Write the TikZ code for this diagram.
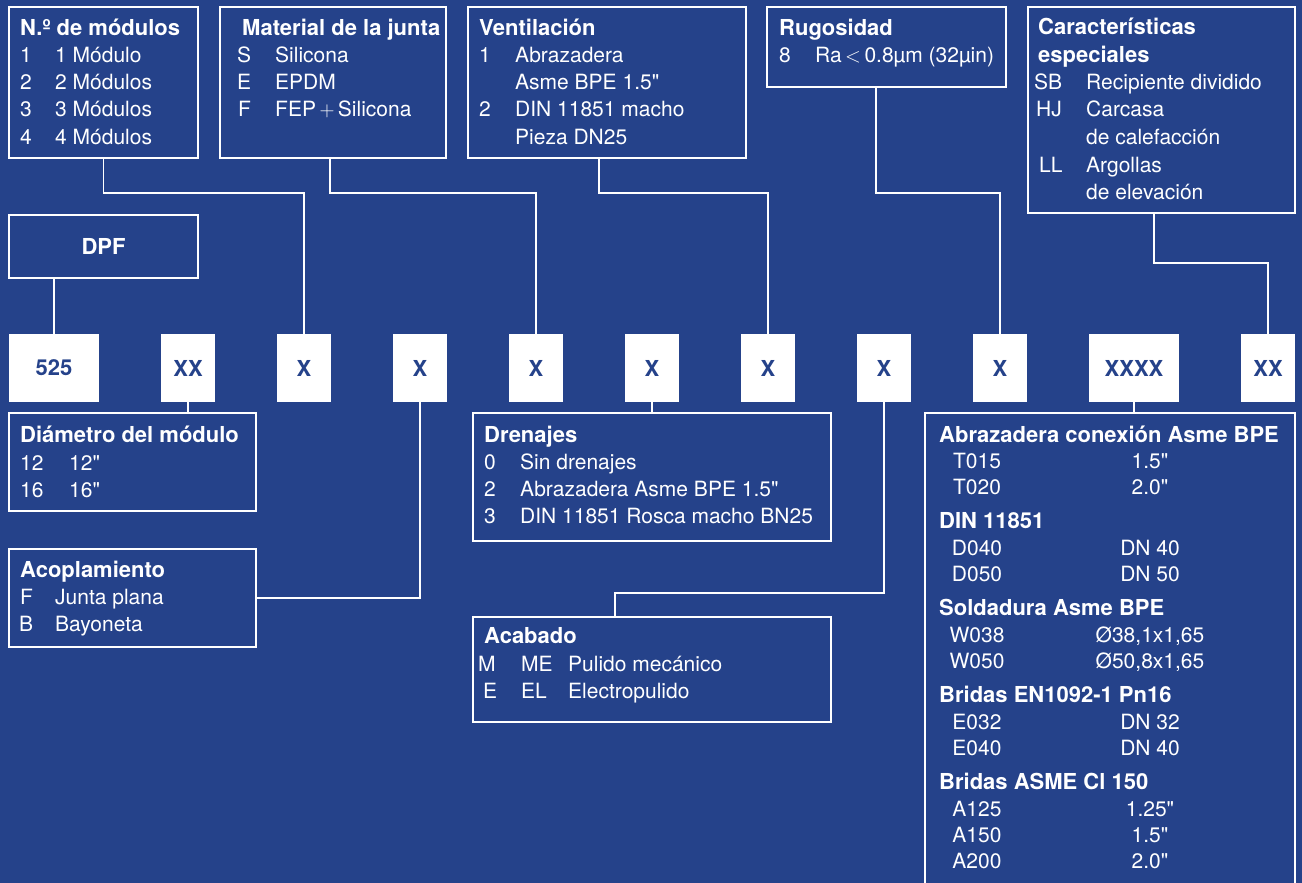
\documentclass[tikz,border=0pt]{standalone}
\usepackage{fontspec}
\setmainfont{TeX Gyre Heros}
\definecolor{bgc}{HTML}{25428A}
\newcommand{\inch}{\textquotedbl}
\begin{document}
\begin{tikzpicture}[x=1pt,y=-1pt,
  conn/.style={draw=white, line width=1.8pt},
  box/.style={draw=white, line width=1.8pt, anchor=north west, inner sep=0pt, outer sep=0pt},
  key/.style={fill=white, anchor=north west, inner sep=0pt, outer sep=0pt, minimum height=68pt, text=bgc, font=\fontsize{22}{24}\selectfont\bfseries},
  tt/.style={anchor=base west, inner sep=0pt, text=white, font=\fontsize{22}{24}\selectfont\bfseries},
  tx/.style={anchor=base west, inner sep=0pt, text=white, font=\fontsize{21}{24}\selectfont},
  tc/.style={anchor=base, inner sep=0pt, text=white, font=\fontsize{21}{24}\selectfont}]
\useasboundingbox (0,0) rectangle (1302,883);
\fill[bgc] (0,0) rectangle (1302,883);
\clip (0,0) rectangle (1302,883);

% top boxes
\node[box, minimum width=189pt, minimum height=151pt] (b1) at (9,7) {};
\node[box, minimum width=226pt, minimum height=151pt] (b2) at (220,7) {};
\node[box, minimum width=278pt, minimum height=151pt] (b3) at (468,7) {};
\node[box, minimum width=239pt, minimum height=80pt] (b4) at (767,7) {};
\node[box, minimum width=267pt, minimum height=206pt] (b5) at (1028,7) {};
\node[box, minimum width=189pt, minimum height=63pt] (d) at (9,215) {};
\node[tt, anchor=center] (dt) at (d.center) {DPF};

% box 1
\node[tt] (b1t) at (20,36) {N.º de módulos};
\node[tx] (b1a) at (20,63) {1}; \node[tx] (b1b) at (55,63) {1 Módulo};
\node[tx] (b1c) at (20,90) {2}; \node[tx] (b1d) at (55,90) {2 Módulos};
\node[tx] (b1e) at (20,117) {3}; \node[tx] (b1f) at (55,117) {3 Módulos};
\node[tx] (b1g) at (20,144) {4}; \node[tx] (b1h) at (55,144) {4 Módulos};
% box 2
\node[tt] (b2t) at (242,36) {Material de la junta};
\node[tx] (b2a) at (237,63) {S}; \node[tx] (b2b) at (275,63) {Silicona};
\node[tx] (b2c) at (237,90) {E}; \node[tx] (b2d) at (275,90) {EPDM};
\node[tx] (b2e) at (238,117) {F}; \node[tx] (b2f) at (275,117) {FEP\,$+$\,Silicona};
% box 3
\node[tt] (b3t) at (479,36) {Ventilación};
\node[tx] (b3a) at (479,63) {1}; \node[tx] (b3b) at (515,63) {Abrazadera};
\node[tx] (b3c) at (515,90) {Asme BPE 1.5\inch};
\node[tx] (b3d) at (479,117) {2}; \node[tx] (b3e) at (515,117) {DIN 11851 macho};
\node[tx] (b3f) at (515,144) {Pieza DN25};
% box 4
\node[tt] (b4t) at (779,36) {Rugosidad};
\node[tx] (b4a) at (779,63) {8}; \node[tx] (b4b) at (815,63) {Ra\,$<$\,0.8µm (32µin)};
% box 5
\node[tt] (b5t) at (1038,35) {Características};
\node[tt] (b5u) at (1038,63) {especiales};
\node[tx] (b5a) at (1034,90) {SB}; \node[tx] (b5b) at (1086,90) {Recipiente dividido};
\node[tx] (b5c) at (1036,117) {HJ}; \node[tx] (b5d) at (1086,117) {Carcasa};
\node[tx] (b5e) at (1086,144) {de calefacción};
\node[tx] (b5f) at (1039,172) {LL}; \node[tx] (b5g) at (1086,172) {Argollas};
\node[tx] (b5h) at (1086,199) {de elevación};

% keys
\node[key, minimum width=90pt] (k1) at (9,334) {525};
\node[key, minimum width=54pt] (k2) at (161,334) {XX};
\node[key, minimum width=54pt] (k3) at (277,334) {X};
\node[key, minimum width=54pt] (k4) at (393,334) {X};
\node[key, minimum width=54pt] (k5) at (509,334) {X};
\node[key, minimum width=54pt] (k6) at (625,334) {X};
\node[key, minimum width=54pt] (k7) at (741,334) {X};
\node[key, minimum width=54pt] (k8) at (857,334) {X};
\node[key, minimum width=54pt] (k9) at (973,334) {X};
\node[key, minimum width=90pt] (k10) at (1089,334) {XXXX};
\node[key, minimum width=54pt] (k11) at (1241,334) {XX};

% bottom boxes
\node[box, minimum width=247pt, minimum height=98pt] (dia) at (9,413) {};
\node[box, minimum width=247pt, minimum height=98pt] (aco) at (9,549) {};
\node[box, minimum width=358pt, minimum height=128pt] (dre) at (473,413) {};
\node[box, minimum width=358pt, minimum height=105pt] (aca) at (473,617) {};
\node[box, minimum width=370pt, minimum height=520pt] (big) at (925,413) {};

\node[tt] (diat) at (20,442) {Diámetro del módulo};
\node[tx] (diaa) at (20,470) {12}; \node[tx] (diab) at (69,470) {12\inch};
\node[tx] (diac) at (20,497) {16}; \node[tx] (diad) at (69,497) {16\inch};

\node[tt] (acot) at (20,577) {Acoplamiento};
\node[tx] (acoa) at (20,604) {F}; \node[tx] (acob) at (55,604) {Junta plana};
\node[tx] (acoc) at (19,631) {B}; \node[tx] (acod) at (55,631) {Bayoneta};

\node[tt] (dret) at (484,442) {Drenajes};
\node[tx] (drea) at (484,469) {0}; \node[tx] (dreb) at (520,469) {Sin drenajes};
\node[tx] (drec) at (484,496) {2}; \node[tx] (dred) at (520,496) {Abrazadera Asme BPE 1.5\inch};
\node[tx] (dree) at (484,523) {3}; \node[tx] (dref) at (520,523) {DIN 11851 Rosca macho BN25};

\node[tt] (acat) at (484,643) {Acabado};
\node[tx] (acaa) at (478,671) {M}; \node[tx] (acab) at (521,671) {ME}; \node[tx] (acac) at (568,671) {Pulido mecánico};
\node[tx] (acad) at (483,698) {E}; \node[tx] (acae) at (521,698) {EL}; \node[tx] (acaf) at (568,698) {Electropulido};

% big box
\node[tt] (g1) at (939,442) {Abrazadera conexión Asme BPE};
\node[tc] (g1a) at (977,468) {T015}; \node[tc] (g1b) at (1150,468) {1.5\inch};
\node[tc] (g1c) at (977,494) {T020}; \node[tc] (g1d) at (1150,494) {2.0\inch};
\node[tt] (g2) at (939,528) {DIN 11851};
\node[tc] (g2a) at (977,555) {D040}; \node[tc] (g2b) at (1150,555) {DN 40};
\node[tc] (g2c) at (977,581) {D050}; \node[tc] (g2d) at (1150,581) {DN 50};
\node[tt] (g3) at (939,615) {Soldadura Asme BPE};
\node[tc] (g3a) at (977,642) {W038}; \node[tc] (g3b) at (1150,642) {Ø38,1x1,65};
\node[tc] (g3c) at (977,668) {W050}; \node[tc] (g3d) at (1150,668) {Ø50,8x1,65};
\node[tt] (g4) at (939,702) {Bridas EN1092-1 Pn16};
\node[tc] (g4a) at (977,729) {E032}; \node[tc] (g4b) at (1150,729) {DN 32};
\node[tc] (g4c) at (977,755) {E040}; \node[tc] (g4d) at (1150,755) {DN 40};
\node[tt] (g5) at (939,789) {Bridas ASME Cl 150};
\node[tc] (g5a) at (977,816) {A125}; \node[tc] (g5b) at (1150,816) {1.25\inch};
\node[tc] (g5c) at (977,842) {A150}; \node[tc] (g5d) at (1150,842) {1.5\inch};
\node[tc] (g5e) at (977,868) {A200}; \node[tc] (g5f) at (1150,868) {2.0\inch};

% connectors
\draw[conn] (b1.south) |- ([yshift=141pt]k3.north) -- (k3.north);
\draw[conn] ([xshift=-3pt]b2.south) |- ([yshift=141pt]k5.north) -- (k5.north);
\draw[conn] ([xshift=-8pt]b3.south) |- ([yshift=141pt]k7.north) -- (k7.north);
\draw[conn] ([xshift=-10.5pt]b4.south) |- ([yshift=141pt]k9.north) -- (k9.north);
\draw[conn] ([xshift=-7.5pt]b5.south) |- ([yshift=71pt]k11.north) -- (k11.north);
\draw[conn] (k1.north) -- (k1.north |- d.south);
\draw[conn] (k2.south) -- (k2.south |- dia.north);
\draw[conn] (aco.east) -| (k4.south);
\draw[conn] (k6.south) -- (k6.south |- dre.north);
\draw[conn] ([xshift=-37pt]aca.north) |- ([yshift=-191pt]k8.south) -- (k8.south);
\draw[conn] (k10.south) -- (k10.south |- big.north);
\end{tikzpicture}
\end{document}
